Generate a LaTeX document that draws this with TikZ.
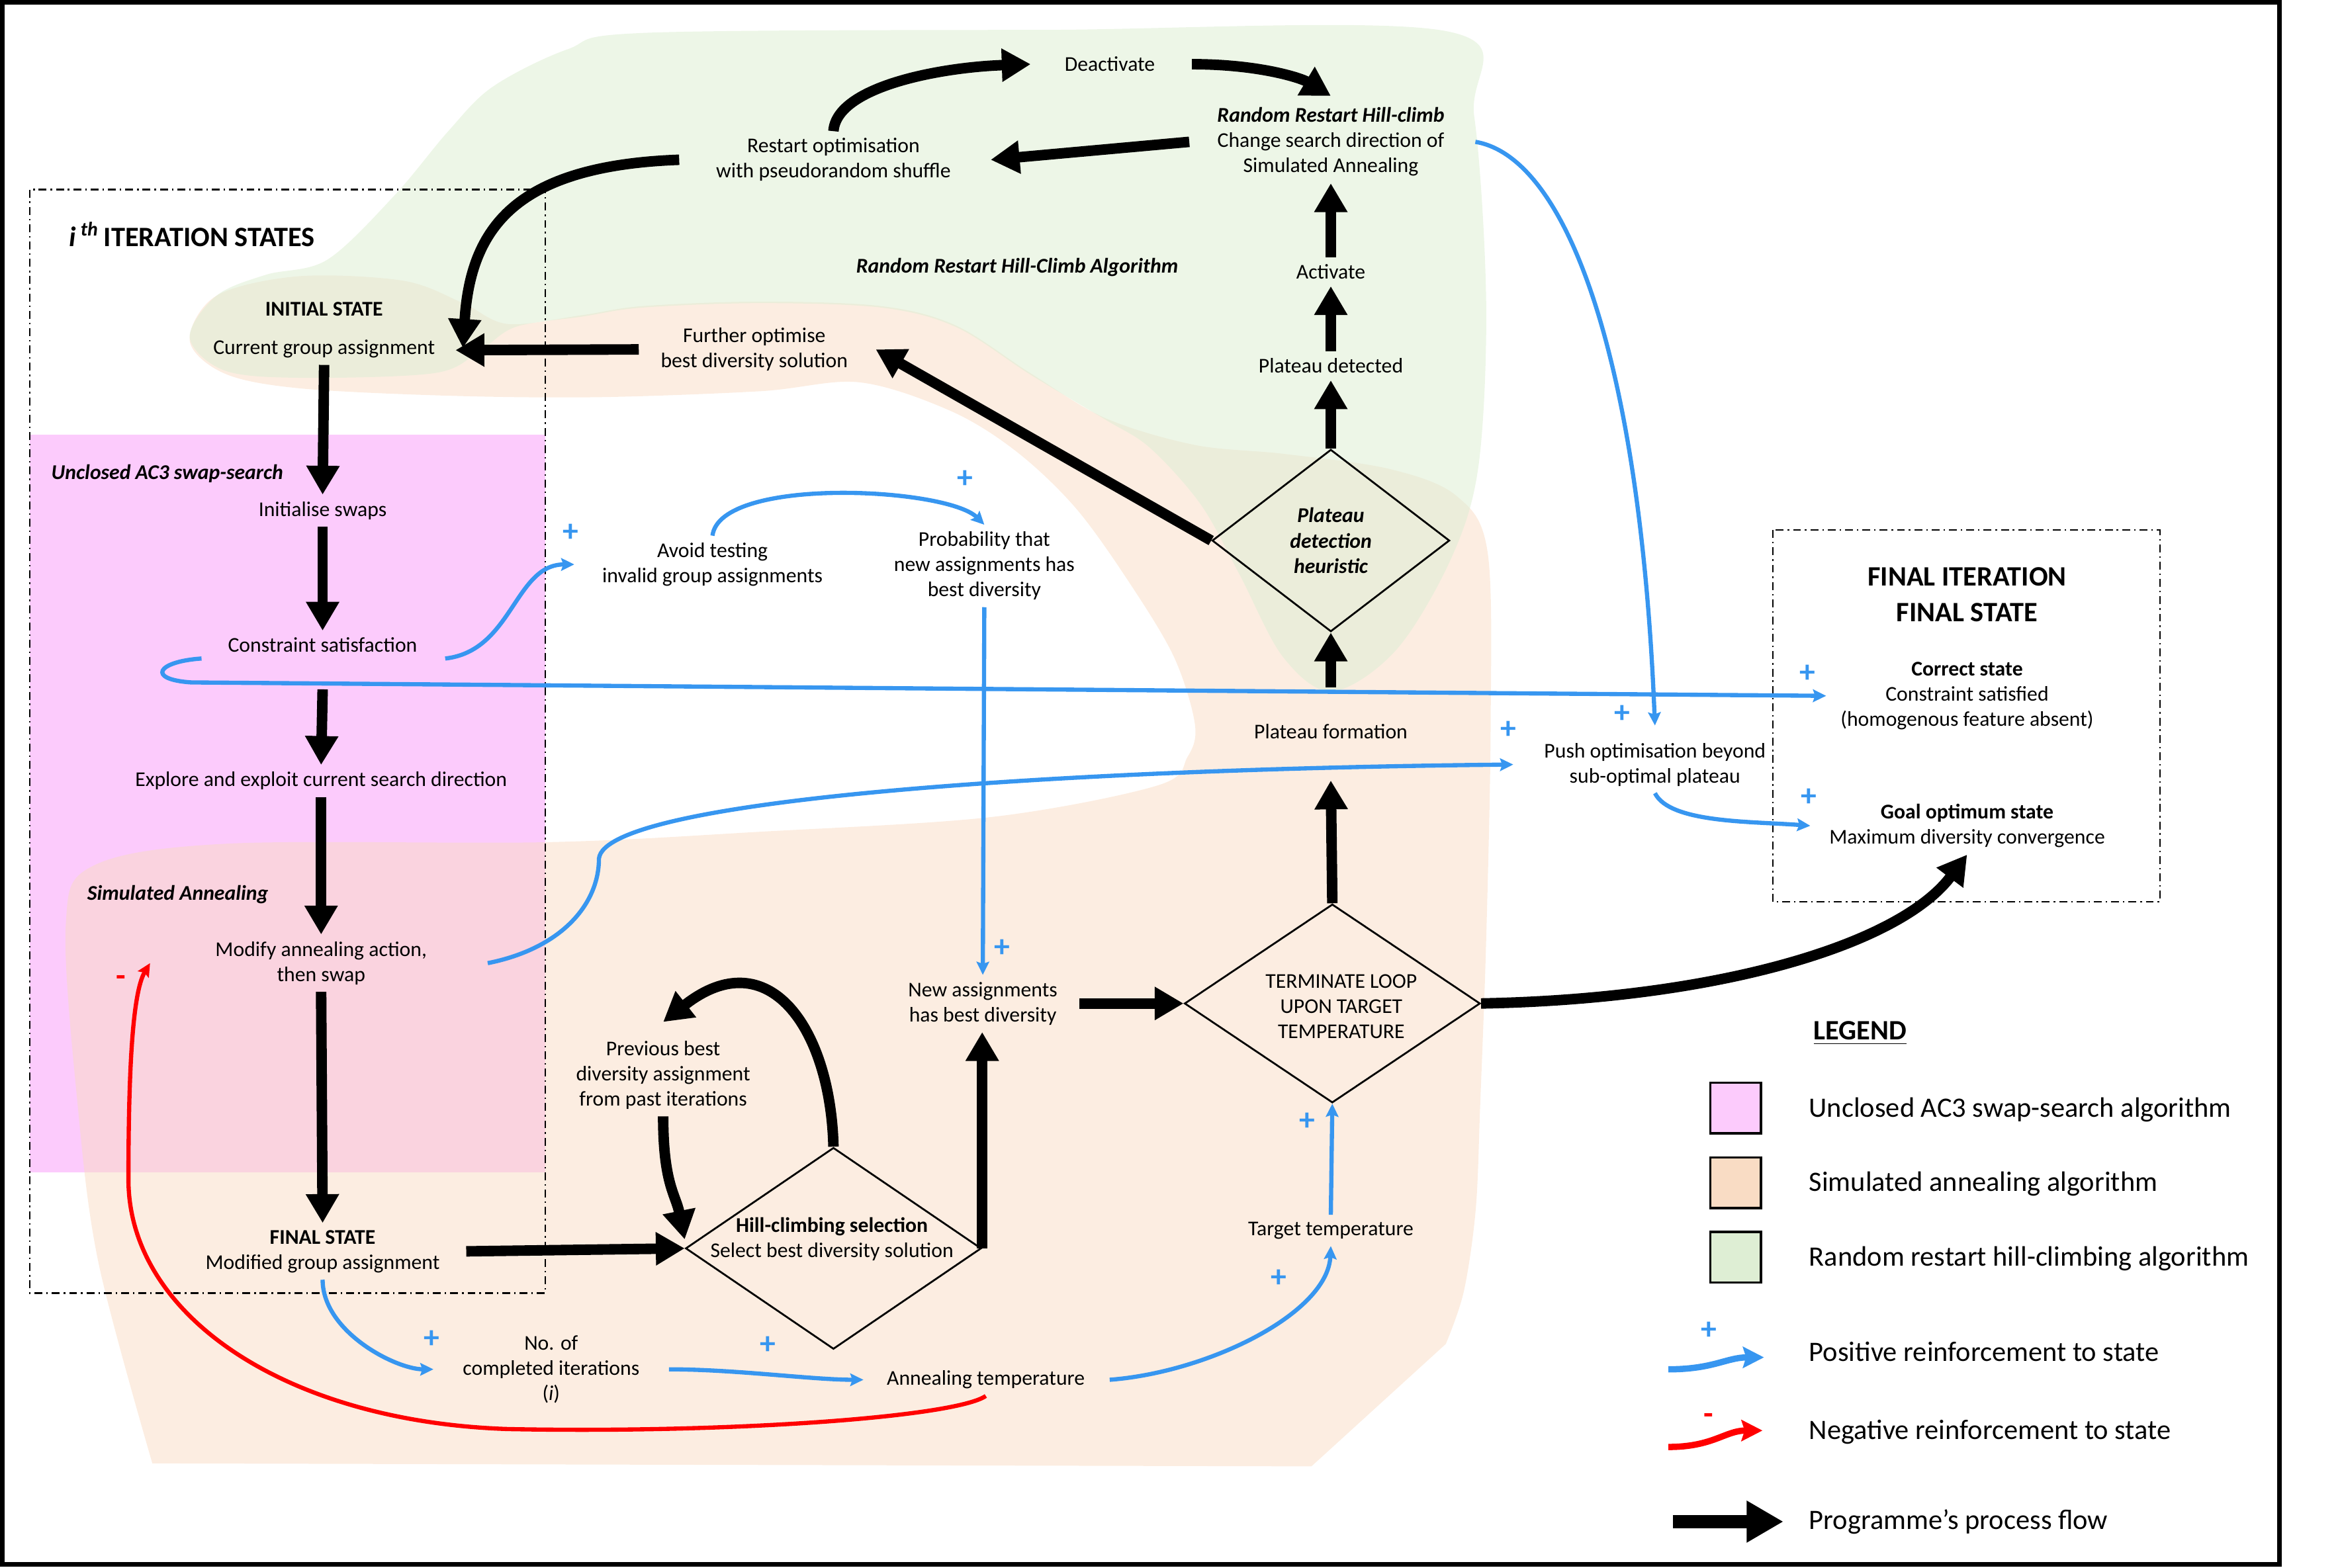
\documentclass[tikz,border=0pt]{standalone}
\usepackage{fontspec}
\setmainfont{Carlito}
\usetikzlibrary{arrows.meta,shapes.geometric}

\definecolor{swapPink}{RGB}{252,203,252}
\definecolor{annealPeach}{RGB}{249,220,196}
\definecolor{climbGreen}{RGB}{222,238,212}
\definecolor{posBlue}{RGB}{55,150,240}

\tikzset{
  lbl/.style={align=center, font=\fontsize{8}{9.6}\selectfont, inner sep=2.5pt},
  lblbi/.style={lbl, font=\fontsize{8}{9.6}\selectfont\bfseries\itshape},
  head/.style={align=center, font=\fontsize{10.7}{13.6}\selectfont\bfseries},
  legtxt/.style={anchor=west, font=\fontsize{10.7}{13}\selectfont},
  dia/.style={draw, diamond, line width=0.7pt, inner sep=0pt},
  flow/.style={line width=4pt, -{Triangle[length=11pt,width=12pt]}},
  posarrow/.style={posBlue, line width=1.6pt, -{Stealth[length=5pt,width=4.8pt,inset=0.8pt]}},
  negarrow/.style={red, line width=1.6pt, -{Stealth[length=5pt,width=4.8pt,inset=0.8pt]}},
  plus/.style={text=posBlue, font=\fontsize{12}{12}\selectfont\bfseries, inner sep=0pt},
  minus/.style={text=red, font=\fontsize{12}{12}\selectfont\bfseries, inner sep=0pt},
  stateframe/.style={line width=0.6pt, dash pattern=on 3pt off 1.5pt on 0.6pt off 1.5pt},
  legbox/.style={draw, line width=0.8pt, minimum width=0.68cm, minimum height=0.68cm}
}

\begin{document}
\begin{tikzpicture}[x=0.02cm, y=-0.02cm]
\useasboundingbox (0,0) rectangle (1568,1050);

% algorithm regions
\fill[swapPink] (20,291) rectangle (365,785);
\fill[annealPeach, fill opacity=0.5] plot[smooth, tension=0.55] coordinates {
  (102,980) (66,846) (52,740) (44,620) (62,580) (152,565) (366,564) (509,557)
  (665,547) (775,526) (795,507) (800,485) (786,440) (756,390) (720,340) (680,302)
  (636,275) (575,256) (509,262) (400,266) (300,265) (200,260) (150,250) (127,228)
  (145,198) (200,185) (270,188) (310,203) (340,217) (390,211) (430,205) (509,202)
  (590,205) (640,218) (690,250) (740,280) (800,298) (860,304) (930,314) (975,332)
  (996,370) (998,487) (995,630) (991,740) (988,810) (980,865) (968,900)}
  -- (878,982) -- cycle;
\fill[climbGreen, fill opacity=0.55] plot[smooth cycle, tension=0.55] coordinates {
  (432,22) (700,20) (969,21) (987,78) (995,202) (990,311) (972,373) (935,435)
  (892,463) (859,440) (830,385) (804,338) (770,300) (740,281) (690,251) (640,219)
  (590,206) (509,203) (430,206) (390,212) (345,219) (320,236) (290,250) (200,253)
  (150,248) (127,226) (145,198) (178,184) (219,174) (264,131) (300,88) (330,58)
  (380,33)};

% frames
\draw[stateframe] (20,127) rectangle (365,866);
\draw[stateframe] (1187,355) rectangle (1446,604);
\draw[line width=1.7pt] (1.5,1.5) rectangle (1526,1047.5);

% states
\node[lbl] (deact) at (743,43) {Deactivate};
\node[lbl] (restart) at (558,107) {Restart optimisation\\with pseudorandom shuffle};
\node[lbl] (rrhc) at (891,95) {\textbf{\textit{Random Restart Hill-climb}}\\Change search direction of\\Simulated Annealing};
\node[lbl] (activate) at (891,182) {Activate};
\node[lbl] (pdetected) at (891,245) {Plateau detected};
\node[dia, minimum width=3.18cm, minimum height=2.44cm] (pdia) at (891,362) {};
\node[lblbi] (pdiatxt) at (891,362) {Plateau\\detection\\heuristic};
\node[lblbi] (rrhcalg) at (681,179) {Random Restart Hill-Climb Algorithm};
\node[head, anchor=west] (iterhead) at (40,157) {\textit{i}\,\textsuperscript{\textit{th}}\,ITERATION STATES};
\node[lbl] (init) at (217,221) {\textbf{INITIAL STATE}\\[5pt]Current group assignment};
\node[lbl] (further) at (505,234) {Further optimise\\best diversity solution};
\node[lblbi] (ac3) at (112,317) {Unclosed AC3 swap-search};
\node[lbl] (initsw) at (216,342) {Initialise swaps};
\node[lbl] (constr) at (216,432) {Constraint satisfaction};
\node[lbl] (avoid) at (477,378) {Avoid testing\\invalid group assignments};
\node[lbl] (prob) at (659,379) {Probability that\\new assignments has\\best diversity};
\node[lbl] (explore) at (215,523) {Explore and exploit current search direction};
\node[lbl] (pform) at (891,490) {Plateau formation};
\node[lbl] (push) at (1108,512) {Push optimisation beyond\\sub-optimal plateau};
\node[head] (finalhead) at (1317,398) {FINAL ITERATION\\FINAL STATE};
\node[lbl] (correct) at (1317,466) {\textbf{Correct state}\\Constraint satisfied\\(homogenous feature absent)};
\node[lbl] (goal) at (1317,553) {\textbf{Goal optimum state}\\Maximum diversity convergence};
\node[lblbi] (sa) at (119,599) {Simulated Annealing};
\node[lbl] (modify) at (215,645) {Modify annealing action,\\then swap};
\node[lbl] (newassign) at (658,672) {New assignments\\has best diversity};
\node[dia, minimum width=3.96cm, minimum height=2.66cm] (term) at (892,672) {};
\node[lbl] (termtxt) at (898,674) {TERMINATE LOOP\\UPON TARGET\\TEMPERATURE};
\node[lbl] (prev) at (444,720) {Previous best\\diversity assignment\\from past iterations};
\node[dia, minimum width=3.96cm, minimum height=2.7cm] (hill) at (558,836) {};
\node[lbl] (hilltxt) at (557,830) {\textbf{Hill-climbing selection}\\Select best diversity solution};
\node[lbl] (final) at (216,838) {\textbf{FINAL STATE}\\Modified group assignment};
\node[lbl] (target) at (891,824) {Target temperature};
\node[lbl] (iters) at (369,917) {No. of\\completed iterations\\(\textit{i})};
\node[lbl] (anneal) at (660,924) {Annealing temperature};

% programme's process flow
\draw[flow] (restart.north) .. controls +(2,-30) and +(-60,2) .. ([xshift=-0.36cm]deact.west);
\draw[flow] ([xshift=0.4cm]deact.east) .. controls +(45,0) and +(-20,-12) .. ([yshift=0.06cm]rrhc.north);
\draw[flow] ([xshift=-0.28cm]rrhc.west) -- ([xshift=0.44cm]restart.east);
\draw[flow] ([xshift=-0.4cm]restart.west) .. controls +(-110,4) and +(5,-80) .. ([shift={(0.28cm,-0.24cm)}]init.east);
\draw[flow] ([xshift=-0.2cm]further.west) -- ([shift={(0.18cm,-0.27cm)}]init.east);
\draw[flow] (pdia.west) -- ([xshift=0.28cm]further.east);
\draw[flow] (init.south) -- (initsw.north);
\draw[flow] (initsw.south) -- (constr.north);
\draw[flow] ([yshift=-0.4cm]constr.south) -- (explore.north);
\draw[flow] (explore.south) -- (modify.north);
\draw[flow] (modify.south) -- (final.north);
\draw[flow] ([xshift=0.26cm]final.east) -- (hill.west);
\draw[flow] (hill.north) .. controls +(-2,-80) and +(70,-55) .. ([yshift=0.16cm]prev.north);
\draw[flow] (prev.south) .. controls +(0,45) and +(-6,-30) .. ([yshift=0.12cm]hill.west);
\draw[flow] (hill.east) -- (hill.east |- newassign.south);
\draw[flow] ([xshift=0.2cm]newassign.east) -- (term.west);
\draw[flow] (term.north) -- ([yshift=-0.46cm]pform.south);
\draw[flow] ([yshift=0.4cm]pform.north) -- (pdia.south);
\draw[flow] (pdia.north) -- (pdetected.south);
\draw[flow] (pdetected.north) -- (activate.south);
\draw[flow] (activate.north) -- (rrhc.south);
\draw[flow] (term.east) .. controls +(160,-3) and +(-45,60) .. (goal.south);

% positive reinforcement
\coordinate (hook) at (128,457);
\coordinate (saBend) at (401,575);
\draw[posarrow] ([shift={(0.28cm,-0.18cm)}]constr.east) .. controls +(45,-5) and +(-40,0) .. ([xshift=-0.28cm]avoid.west);
\draw[posarrow] (avoid.north) .. controls +(5,-40) and +(-25,-25) .. (prob.north);
\draw[posarrow] (prob.south) -- (newassign.north);
\draw[posarrow] ([shift={(-0.26cm,-0.18cm)}]constr.west) .. controls +(-30,2) and +(-30,-2) .. (hook) -- ([xshift=-0.1cm]correct.west);
\draw[posarrow] ([xshift=0.32cm]rrhc.east) .. controls +(60,10) and +(-10,-250) .. ([yshift=0.14cm]push.north);
\draw[posarrow] ([xshift=0.72cm]modify.east) .. controls +(50,-10) and +(0,30) .. (saBend) .. controls +(4,-40) and +(-300,3) .. ([xshift=-0.32cm]push.west);
\draw[posarrow] (push.south) .. controls +(10,20) and +(-40,-3) .. ([xshift=-0.16cm]goal.west);
\draw[posarrow] (final.south) .. controls +(0,35) and +(-25,0) .. ([xshift=-0.3cm]iters.west);
\draw[posarrow] ([xshift=0.3cm]iters.east) .. controls +(45,0) and +(-35,0) .. ([xshift=-0.22cm]anneal.west);
\draw[posarrow] ([xshift=0.24cm]anneal.east) .. controls +(66,-5) and +(-2,45) .. (target.south);
\draw[posarrow] (target.north) -- (term.south);

% negative reinforcement
\coordinate (redDip) at (340,957);
\coordinate (redTurn) at (86,790);
\draw[negarrow] (anneal.south) .. controls +(-20,14) and +(150,3) .. (redDip) .. controls +(-150,-5) and +(0,90) .. (redTurn) .. controls +(0,-70) and +(-12,20) .. ([xshift=-0.78cm]modify.west);

% signs
\foreach \sx/\sy [count=\k] in {382/357, 646/321, 671/635, 1210/451, 1086/478, 1010/489, 1211/534, 289/897, 514/901, 875/751, 856/856}
  \node[plus] (plus\k) at (\sx,\sy) {+};
\node[minus] (minusMod) at (81,657) {-};

% legend
\node[head, anchor=west] (legend) at (1208,692) {\underline{LEGEND}};
\node[legbox, fill=swapPink] (kpink) at (1162,742) {};
\node[legbox, fill=annealPeach] (kpeach) at (1162,792) {};
\node[legbox, fill=climbGreen] (kgreen) at (1162,842) {};
\node[legtxt] (tpink) at (1205,743) {Unclosed AC3 swap-search algorithm};
\node[legtxt] (tpeach) at (1205,793) {Simulated annealing algorithm};
\node[legtxt] (tgreen) at (1205,843) {Random restart hill-climbing algorithm};
\node[legtxt] (tpos) at (1205,905) {Positive reinforcement to state};
\node[legtxt] (tneg) at (1205,959) {Negative reinforcement to state};
\node[legtxt] (tflow) at (1205,1019) {Programme’s process flow};
\coordinate (kposA) at (1117,917);
\coordinate (kposB) at (1181,909);
\coordinate (knegA) at (1117,969);
\coordinate (knegB) at (1180,958);
\coordinate (kflowA) at (1120,1019);
\coordinate (kflowB) at (1194,1019);
\draw[posarrow, line width=2.4pt, -{Stealth[length=8pt,width=8pt,inset=1.2pt]}] (kposA) .. controls +(30,0) and +(-25,0) .. (kposB);
\draw[negarrow, line width=2.4pt, -{Stealth[length=8pt,width=8pt,inset=1.2pt]}] (knegA) .. controls +(30,0) and +(-25,0) .. (knegB);
\draw[flow, line width=5pt, -{Triangle[length=14pt,width=15pt]}] (kflowA) -- (kflowB);
\node[plus] (kplus) at (1144,891) {+};
\node[minus] (kminus) at (1144,950) {-};
\end{tikzpicture}
\end{document}
